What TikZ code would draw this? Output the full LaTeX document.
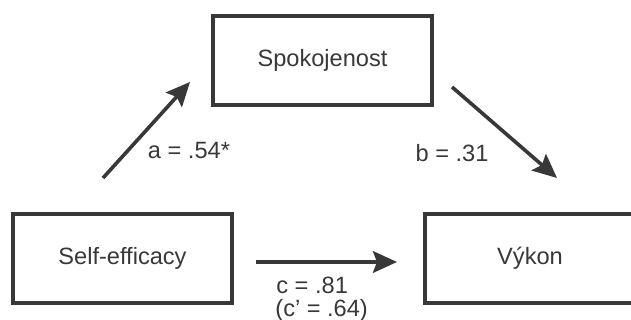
\documentclass[tikz,border=0pt]{standalone}
\usepackage{fontspec}
\setmainfont{Liberation Sans}
\usetikzlibrary{arrows.meta}
\definecolor{ink}{HTML}{383838}
\begin{document}
\begin{tikzpicture}[x=0.5pt,y=-0.5pt,
  font=\fontsize{11.8pt}{14pt}\selectfont,
  varbox/.style={draw=ink, line width=1.7pt, text=ink, inner sep=0pt,
    minimum width=109.5pt, minimum height=44.5pt},
  path/.style={draw=ink, line width=1.8pt,
    -{Stealth[length=12pt,width=10.8pt,inset=2pt]}},
  coef/.style={text=ink, inner sep=0pt}]
  \useasboundingbox (0,0) rectangle (631,320);
  \clip (0,0) rectangle (631,320);

  % variables
  \node[varbox] (spok) at (322.5,60.5) {Spokojenost};
  \node[varbox] (self) at (122.5,258.5) {Self-efficacy};
  \node[varbox, minimum width=105pt] (vykon) at (530,258.5) {Výkon};

  % arrow end points
  \coordinate (aS) at (103,178);
  \coordinate (aE) at (190,82);
  \coordinate (bS) at (452,87);
  \coordinate (bE) at (557,178);
  \coordinate (cS) at (256,262);
  \coordinate (cE) at (397,262);

  % paths
  \draw[path] (aS) -- (aE);
  \draw[path] (bS) -- (bE);
  \draw[path] (cS) -- (cE);

  % coefficients
  \node[coef] (la) at (189,150) {a = .54*};
  \node[coef] (lb) at (452,153) {b = .31};
  \node[coef, anchor=west] (lc) at (276,285) {c = .81};
  \node[coef, anchor=west] (lc2) at (275,310) {(c’ = .64)};
\end{tikzpicture}
\end{document}
